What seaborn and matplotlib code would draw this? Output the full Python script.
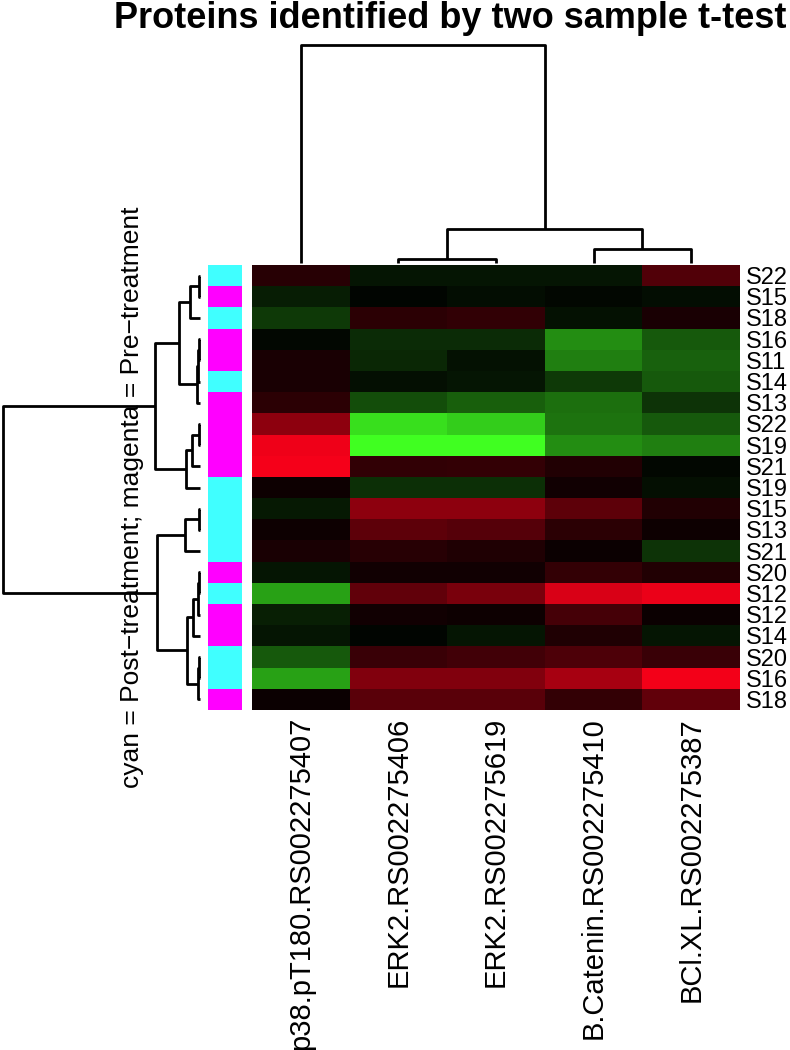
import numpy as np
import pandas as pd
import matplotlib
matplotlib.use('Agg')
import matplotlib.pyplot as plt
import seaborn as sns
from matplotlib.colors import LinearSegmentedColormap, ListedColormap

# samples (rows, in dendrogram order) and treatment group
samples = ['S22', 'S15', 'S18', 'S16', 'S11', 'S14', 'S13', 'S22', 'S19', 'S21', 'S19',
           'S15', 'S13', 'S21', 'S20', 'S12', 'S12', 'S14', 'S20', 'S16', 'S18']
group = ['post', 'pre', 'post', 'pre', 'pre', 'post', 'pre', 'pre', 'pre', 'pre', 'post',
         'post', 'post', 'post', 'pre', 'post', 'pre', 'pre', 'post', 'post', 'pre']

proteins = ['p38.pT180.RS002275407', 'ERK2.RS002275406', 'ERK2.RS002275619',
            'B.Catenin.RS002275410', 'BCl.XL.RS002275387']

# scaled expression (negative = green, positive = red)
p38 = [0.15, -0.11, -0.22, -0.03, 0.10, 0.10, 0.17, 0.55, 0.93, 0.96, 0.05,
       -0.10, 0.05, 0.10, -0.08, -0.63, -0.12, -0.08, -0.35, -0.63, 0.04]
erk406 = [-0.08, -0.02, 0.17, -0.17, -0.15, -0.06, -0.30, -0.87, -1.00, 0.19, -0.18,
          0.55, 0.36, 0.15, 0.07, 0.38, 0.07, -0.02, 0.22, 0.50, 0.35]
erk619 = [-0.08, -0.05, 0.19, -0.17, -0.07, -0.08, -0.37, -0.80, -1.00, 0.20, -0.18,
          0.55, 0.33, 0.12, 0.07, 0.47, 0.05, -0.08, 0.25, 0.50, 0.35]
bcat = [-0.08, -0.03, -0.07, -0.55, -0.50, -0.22, -0.43, -0.45, -0.55, 0.13, 0.07,
        0.36, 0.17, 0.04, 0.20, 0.85, 0.27, 0.12, 0.30, 0.65, 0.20]
bclxl = [0.32, -0.05, 0.10, -0.35, -0.38, -0.35, -0.20, -0.35, -0.50, -0.03, -0.06,
         0.13, 0.05, -0.20, 0.13, 0.92, 0.04, -0.08, 0.22, 0.95, 0.38]

# dendrograms as (left, right, height); ints are leaf indices
row_upper = ((((0, 1, 1), 2, 10), (((3, 4, 1), 5, 2), 6, 3), 21),
             (((7, 8, 1), 9, 8), 10, 14), 45)
row_lower = (((11, 12, 1), 13, 15),
             ((((14, 15, 1), 16, 1.5), 17, 7), ((18, 19, 0.5), 20, 2), 13), 43)
row_tree = (row_upper, row_lower, 197)
col_tree = (0, ((1, 2, 4), (3, 4, 14), 34), 217)

df = pd.DataFrame({proteins[0]: p38, proteins[1]: erk406, proteins[2]: erk619,
                   proteins[3]: bcat, proteins[4]: bclxl}, index=samples)
grp = pd.DataFrame({'g': [0 if g == 'post' else 1 for g in group]})

sns.set_style('white')
plt.rcParams['font.family'] = ['Liberation Sans', 'DejaVu Sans']
plt.rcParams['text.color'] = 'black'
plt.rcParams['xtick.color'] = 'black'
plt.rcParams['ytick.color'] = 'black'

W, H = 790, 1050
fig = plt.figure(figsize=(W / 100, H / 100), dpi=100)


def box(x0, y0, x1, y1):
    return [x0 / W, 1 - y1 / H, (x1 - x0) / W, (y1 - y0) / H]


ax_heat = fig.add_axes(box(252, 265, 740, 710))
ax_side = fig.add_axes(box(208, 265, 242, 710))
ax_rd = fig.add_axes(box(3, 265, 200, 710))
ax_cd = fig.add_axes(box(252, 45, 740, 263))

cmap = LinearSegmentedColormap.from_list('gr', [(0.25, 1.0, 0.13), (0, 0, 0), (1.0, 0.0, 0.1)])
sns.heatmap(df, ax=ax_heat, cmap=cmap, vmin=-1, vmax=1, cbar=False,
            xticklabels=proteins, yticklabels=samples)
ax_heat.yaxis.tick_right()
ax_heat.tick_params(axis='both', length=0, colors='black')
ax_heat.tick_params(axis='y', pad=4)
ax_heat.tick_params(axis='x', pad=5)
ax_heat.set_yticklabels(samples, rotation=0, fontsize=17)
ax_heat.set_xticklabels(proteins, rotation=90, fontsize=21)
ax_heat.set_xlabel('')
ax_heat.set_ylabel('')

sns.heatmap(grp, ax=ax_side, cmap=ListedColormap(['#40FFFF', '#FF00FF']), cbar=False,
            xticklabels=False, yticklabels=False)


def draw(ax, node, orient):
    if isinstance(node, int):
        return node + 0.5, 0
    l, r, h = node
    pl, hl = draw(ax, l, orient)
    pr, hr = draw(ax, r, orient)
    xs = [pl, pl, pr, pr]
    ys = [hl, h, h, hr]
    if orient == 'left':
        xs, ys = ys, xs
    ax.plot(xs, ys, color='black', lw=2, clip_on=False, solid_capstyle='butt')
    return (pl + pr) / 2, h


draw(ax_rd, row_tree, 'left')
ax_rd.set_xlim(row_tree[2], 0)
ax_rd.set_ylim(len(samples), 0)
ax_rd.axis('off')

draw(ax_cd, col_tree, 'top')
ax_cd.set_xlim(0, len(proteins))
ax_cd.set_ylim(0, col_tree[2])
ax_cd.axis('off')

fig.text(450 / W, 1 - 19 / H, 'Proteins identified by two sample t-test',
         ha='center', va='center', fontsize=26, fontweight='bold')
fig.text(132 / W, 1 - 497 / H, 'cyan = Post\u2212treatment; magenta = Pre\u2212treatment',
         rotation=90, ha='center', va='center', fontsize=19)

fig.savefig('out.png', dpi=100)
